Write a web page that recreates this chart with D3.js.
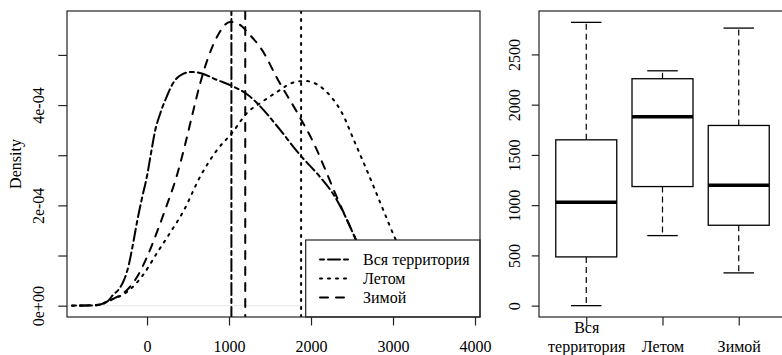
<!DOCTYPE html>
<html><head><meta charset="utf-8">
<script src="https://cdn.jsdelivr.net/npm/d3@7"></script>
<style>
body{margin:0;background:#fff}
svg{display:block}
text{font-family:"Liberation Serif","Times New Roman",serif;font-size:16px;fill:#000}
</style>
</head><body>
<svg id="c" width="782" height="355"></svg>
<script>
// ---------- data ----------
const seriesNames = ["Вся территория", "Летом", "Зимой"];

const vsyaX = [-915,-695,-573,-476,-415,-341,-280,-220,-171,-122,-61,0,49,98,159,244,305,366,439,524,646,854,1037,1232,1354,1585,1866,2110,2293,2439,2549,2659,2841,3024,3207,3390];
const vsyaY = [0.004,0.004,0.024,0.094,0.213,0.333,0.512,0.832,1.230,1.669,2.148,2.586,3.045,3.483,3.823,4.182,4.402,4.541,4.621,4.661,4.641,4.501,4.382,4.202,4.020,3.583,3.005,2.566,2.168,1.709,1.310,0.911,0.413,0.114,0.014,0].map(v => v * 1e-4);

const letomX = [-915,-610,-451,-244,-49,122,280,439,646,854,1037,1220,1402,1622,1768,1927,2085,2256,2378,2537,2695,2866,3024,3207,3390,3573,3756];
const letomY = [0,0.014,0.114,0.273,0.612,1.051,1.450,1.869,2.566,3.105,3.444,3.843,4.062,4.301,4.441,4.481,4.401,4.142,3.843,3.245,2.646,1.968,1.350,0.752,0.313,0.094,0.014].map(v => v * 1e-4);

const zimoyX = [-817,-634,-512,-390,-244,-122,0,122,220,366,463,549,646,744,866,1012,1134,1232,1402,1598,1841,2049,2171,2293,2439,2549,2659,2817,2988,3146];
const zimoyY = [0,0.004,0.054,0.154,0.313,0.572,0.971,1.470,1.908,2.606,3.204,3.783,4.421,4.939,5.398,5.658,5.598,5.439,5.100,4.501,3.823,3.185,2.726,2.247,1.709,1.310,0.871,0.353,0.074,0.002].map(v => v * 1e-4);

const xTicks = [0, 1000, 2000, 3000, 4000];
const densityTicks = [0, 1e-4, 2e-4, 3e-4, 4e-4, 5e-4];
const densityTickLabels = ["0e+00", "", "2e-04", "", "4e-04", ""];

const boxCategories = ["Вся\nтерритория", "Летом", "Зимой"];
const boxMin    = [0, 697, 326];
const boxQ1     = [485, 1185, 800];
const boxMedian = [1029, 1879, 1198];
const boxQ3     = [1650, 2258, 1793];
const boxMax    = [2819, 2337, 2762];
const boxTicks  = [0, 500, 1000, 1500, 2000, 2500];

// ---------- setup ----------
const svg = d3.select("#c");
const FONT = '"Liberation Serif","Times New Roman",serif';
const dashes = ["4,4,12,4", "2,6", "8,8"];

// Left panel scales
const xL = d3.scaleLinear().domain([-976, 4061]).range([67, 480]);
const yL = d3.scaleLinear().domain([-0.226e-4, 5.876e-4]).range([317, 11]);

svg.append("defs").append("clipPath").attr("id", "clipL")
  .append("rect").attr("x", 67).attr("y", 11).attr("width", 413).attr("height", 306);

const gL = svg.append("g");

// zero line (gray)
gL.append("line")
  .attr("x1", 67).attr("x2", 480)
  .attr("y1", yL(0)).attr("y2", yL(0))
  .attr("stroke", "#d6d6d6").attr("stroke-width", 0.6);

const line = d3.line().x(d => xL(d[0])).y(d => yL(d[1])).curve(d3.curveMonotoneX);
const seriesXY = [
  d3.zip(vsyaX, vsyaY),
  d3.zip(letomX, letomY),
  d3.zip(zimoyX, zimoyY)
];

const plotArea = gL.append("g").attr("clip-path", "url(#clipL)");
seriesXY.forEach((pts, i) => {
  plotArea.append("path")
    .attr("d", line(pts))
    .attr("fill", "none").attr("stroke", "#000")
    .attr("stroke-width", 2).attr("stroke-linecap", "round")
    .attr("stroke-dasharray", dashes[i]);
});

// vertical median lines: order Вся, Летом, Зимой
boxMedian.forEach((m, i) => {
  plotArea.append("line")
    .attr("x1", xL(m)).attr("x2", xL(m))
    .attr("y1", 11).attr("y2", 317)
    .attr("stroke", "#000").attr("stroke-width", 2)
    .attr("stroke-linecap", "round")
    .attr("stroke-dasharray", dashes[i]);
});

// legend
const leg = gL.append("g");
leg.append("rect").attr("x", 305.7).attr("y", 240).attr("width", 174.3).attr("height", 77)
  .attr("fill", "#fff").attr("stroke", "#222").attr("stroke-width", 1.2);
seriesNames.forEach((name, i) => {
  const y = 259.5 + i * 19;
  leg.append("line").attr("x1", 320).attr("x2", 349).attr("y1", y).attr("y2", y)
    .attr("stroke", "#000").attr("stroke-width", 2).attr("stroke-linecap", "round")
    .attr("stroke-dasharray", dashes[i]);
  leg.append("text").attr("x", 363).attr("y", y + 5.5).text(name);
});

// frame
gL.append("rect").attr("x", 67).attr("y", 11).attr("width", 413).attr("height", 306)
  .attr("fill", "none").attr("stroke", "#222").attr("stroke-width", 1.2);

// x axis
const axXL = gL.append("g").attr("transform", "translate(0,317)")
  .call(d3.axisBottom(xL).tickValues(xTicks).tickSize(8.5).tickFormat(d3.format("d")));
axXL.select(".domain").remove();
axXL.selectAll("line").attr("stroke", "#222").attr("stroke-width", 1.2);
axXL.selectAll("text").attr("y", 35).attr("dy", null)
  .style("font-family", FONT).style("font-size", "16px");

// y axis
const axYL = gL.append("g").attr("transform", "translate(67,0)")
  .call(d3.axisLeft(yL).tickValues(densityTicks).tickSize(8.7)
    .tickFormat((d, i) => densityTickLabels[i]));
axYL.select(".domain").remove();
axYL.selectAll("line").attr("stroke", "#222").attr("stroke-width", 1.2);
axYL.selectAll("text")
  .attr("transform", "rotate(-90)")
  .attr("x", 0).attr("y", -23.5).attr("dy", null)
  .attr("text-anchor", "middle")
  .style("font-family", FONT).style("font-size", "16px");

// y label
gL.append("text").attr("transform", "translate(21,164) rotate(-90)")
  .attr("text-anchor", "middle").text("Density");

// ---------- right panel ----------
const xR = d3.scaleLinear().domain([0.38, 3.62]).range([539, 786]);
const yR = d3.scaleLinear().domain([-113, 2932]).range([317, 11]);
const gR = svg.append("g");
const halfW = 0.4, halfStaple = 0.2;

boxCategories.forEach((c, i) => {
  const cx = i + 1;
  // whiskers
  [[boxQ3[i], boxMax[i]], [boxQ1[i], boxMin[i]]].forEach(([a, b]) => {
    gR.append("line").attr("x1", xR(cx)).attr("x2", xR(cx))
      .attr("y1", yR(a)).attr("y2", yR(b))
      .attr("stroke", "#000").attr("stroke-width", 1.2)
      .attr("stroke-dasharray", "6,4");
    gR.append("line").attr("x1", xR(cx - halfStaple)).attr("x2", xR(cx + halfStaple))
      .attr("y1", yR(b)).attr("y2", yR(b))
      .attr("stroke", "#000").attr("stroke-width", 1.3);
  });
  // box
  gR.append("rect").attr("x", xR(cx - halfW)).attr("y", yR(boxQ3[i]))
    .attr("width", xR(cx + halfW) - xR(cx - halfW))
    .attr("height", yR(boxQ1[i]) - yR(boxQ3[i]))
    .attr("fill", "#fff").attr("stroke", "#000").attr("stroke-width", 1.3);
  // median
  gR.append("line").attr("x1", xR(cx - halfW)).attr("x2", xR(cx + halfW))
    .attr("y1", yR(boxMedian[i])).attr("y2", yR(boxMedian[i]))
    .attr("stroke", "#000").attr("stroke-width", 3.5);
});

// frame
gR.append("rect").attr("x", 539).attr("y", 11).attr("width", 247).attr("height", 306)
  .attr("fill", "none").attr("stroke", "#222").attr("stroke-width", 1.2);

// y axis
const axYR = gR.append("g").attr("transform", "translate(539,0)")
  .call(d3.axisLeft(yR).tickValues(boxTicks).tickSize(7.3).tickFormat(d3.format("d")));
axYR.select(".domain").remove();
axYR.selectAll("line").attr("stroke", "#222").attr("stroke-width", 1.2);
axYR.selectAll("text")
  .attr("transform", "rotate(-90)")
  .attr("x", 0).attr("y", -19).attr("dy", null)
  .attr("text-anchor", "middle")
  .style("font-family", FONT).style("font-size", "16px");

// x axis
const axXR = gR.append("g").attr("transform", "translate(0,317)")
  .call(d3.axisBottom(xR).tickValues([1, 2, 3]).tickSize(8.5).tickFormat(() => ""));
axXR.select(".domain").remove();
axXR.selectAll("line").attr("stroke", "#222").attr("stroke-width", 1.2);
axXR.selectAll(".tick").each(function(d, i) {
  const lines = boxCategories[i].split("\n");
  const t = d3.select(this).select("text").attr("y", null).attr("dy", null)
    .style("font-family", FONT).style("font-size", "16px").text(null);
  const n = lines.length;
  lines.forEach((s, k) => {
    t.append("tspan").attr("x", 0).attr("y", 35 - (n - 1 - k) * 19).text(s);
  });
});
</script>
</body></html>
